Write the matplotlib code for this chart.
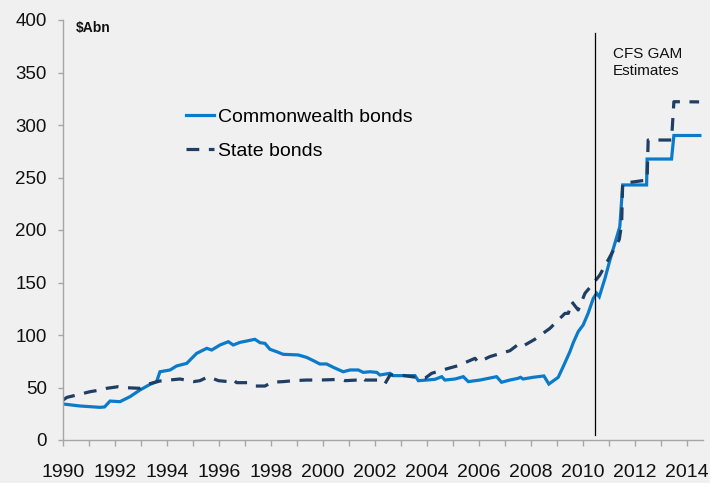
import matplotlib
matplotlib.use("Agg")
import matplotlib.pyplot as plt

plt.rcParams['font.family'] = ['Liberation Sans', 'DejaVu Sans']

# Commonwealth government bonds on issue ($Abn)
cw_years = [1990.0, 1990.65, 1991.42, 1991.6, 1991.81, 1992.19, 1992.58, 1992.96, 1993.35,
            1993.6, 1993.73, 1994.12, 1994.37, 1994.76, 1995.14, 1995.53, 1995.72, 1996.04,
            1996.36, 1996.55, 1996.81, 1997.07, 1997.38, 1997.58, 1997.77, 1997.96, 1998.22,
            1998.47, 1999.05, 1999.37, 1999.63, 1999.88, 2000.14, 2000.4, 2000.78, 2001.04,
            2001.36, 2001.55, 2001.81, 2002.07, 2002.19, 2002.58, 2002.7, 2003.54, 2003.67,
            2003.99, 2004.31, 2004.57, 2004.69, 2005.08, 2005.4, 2005.59, 2006.04, 2006.68,
            2006.87, 2007.19, 2007.5, 2007.6, 2007.7, 2008.08, 2008.5, 2008.69, 2009.05,
            2009.24, 2009.5, 2009.63, 2009.82, 2010.01, 2010.2, 2010.4, 2010.53, 2010.63,
            2010.85, 2011.04, 2011.42, 2011.53, 2012.45, 2012.47, 2013.41, 2013.5, 2014.5]
cw_values = [34.3, 32.4, 31.1, 31.5, 37.1, 36.5, 41.3, 47.6, 53.0,
             55.6, 65.0, 66.7, 70.5, 73.0, 82.5, 87.3, 85.7, 90.5,
             93.6, 90.5, 93.0, 94.3, 95.9, 92.7, 92.0, 86.4, 84.1,
             81.6, 81.0, 78.7, 75.6, 72.4, 72.4, 69.2, 65.0, 66.7,
             66.7, 64.4, 65.0, 64.4, 61.9, 63.5, 61.3, 61.3, 56.5,
             57.1, 57.8, 60.3, 57.1, 58.1, 60.3, 55.6, 57.1, 60.3,
             55.0, 57.1, 58.7, 59.7, 58.1, 59.7, 61.0, 53.3, 59.7,
             69.8, 84.1, 92.7, 103.2, 109.5, 120.6, 134.9, 139.7, 136.5,
             154.0, 171.4, 203.2, 242.9, 242.9, 267.6, 267.6, 290.0, 290.0]

# State government bonds on issue ($Abn)
st_years = [1990.0, 1990.15, 1990.78, 1991.04, 1991.42, 1991.68, 1992.13, 1992.45, 1992.96,
            1993.15, 1993.73, 1994.5, 1995.02, 1995.27, 1995.59, 1995.98, 1996.36, 1996.53,
            1996.68, 1997.13, 1997.38, 1997.77, 1998.03, 1998.47, 1998.86, 1999.37, 1999.88,
            2000.72, 2000.85, 2001.3, 2001.45, 2001.62, 2002.13, 2002.38, 2002.58, 2002.96,
            2003.41, 2003.92, 2004.18, 2004.82, 2005.2, 2005.46, 2005.85, 2005.97, 2006.42,
            2006.93, 2007.19, 2007.6, 2007.77, 2008.15, 2008.41, 2008.73, 2008.99, 2009.31,
            2009.44, 2009.57, 2009.82, 2010.08, 2010.4, 2010.65, 2010.97, 2011.4, 2011.49,
            2011.53, 2012.0, 2012.47, 2012.51, 2013.41, 2013.5, 2014.47]
st_values = [38.0, 40.6, 44.4, 46.0, 47.6, 49.2, 50.8, 49.8, 49.2,
             52.4, 56.2, 58.1, 55.6, 56.5, 60.3, 56.5, 55.6, 57.8,
             54.6, 54.6, 51.4, 51.4, 55.0, 55.6, 56.5, 57.1, 57.1,
             57.8, 56.5, 57.1, 60.0, 57.1, 57.1, 53.3, 61.9, 61.9,
             60.3, 58.7, 63.5, 68.2, 70.8, 73.6, 77.8, 74.0, 79.4,
             83.2, 85.0, 92.7, 90.5, 95.9, 100.6, 106.3, 112.7, 120.6,
             120.6, 131.7, 123.8, 139.7, 149.2, 157.1, 171.4, 191.0, 206.0,
             244.4, 246.0, 247.6, 285.7, 285.7, 322.2, 322.0]

x_ticks = list(range(1990, 2015))
x_labels = [str(y) if y % 2 == 0 else '' for y in x_ticks]
y_ticks = list(range(0, 401, 50))
forecast_start = 2010.47

bg = '#f0f0f0'
grey = '#a6a6a6'

fig = plt.figure(figsize=(7.1, 4.83), dpi=100, facecolor=bg)
ax = fig.add_axes([63 / 710, 43 / 483, 640 / 710, 420 / 483])
ax.set_facecolor(bg)

ax.plot(cw_years, cw_values, color='#0b7bc9', lw=2.3, label='Commonwealth bonds',
        solid_joinstyle='miter')
ax.plot(st_years, st_values, color='#1f3e64', lw=2.3, dashes=(4, 3),
        label='State bonds')

ax.axvline(forecast_start, ymin=0.012, ymax=0.97, color='black', lw=0.9)

ax.set_xlim(1990, 2014.62)
ax.set_ylim(0, 400)
ax.set_xticks(x_ticks)
ax.set_xticklabels(x_labels)
ax.set_yticks(y_ticks)

for side in ['top', 'right']:
    ax.spines[side].set_visible(False)
for side in ['left', 'bottom']:
    ax.spines[side].set_color(grey)
    ax.spines[side].set_linewidth(1.0)

ax.tick_params(axis='x', direction='out', length=4.5, width=1, color=grey,
               pad=12.5, labelsize=14, labelcolor='#111111')
ax.tick_params(axis='y', direction='out', length=3.6, width=1, color=grey,
               pad=8, labelsize=13.5, labelcolor='#111111')

ax.legend(loc='upper left', bbox_to_anchor=(186 / 710, 0.776),
          bbox_transform=fig.transFigure, frameon=False, fontsize=14,
          handlelength=1.45, handletextpad=0.2, borderpad=0, borderaxespad=0,
          labelspacing=0.85)

fig.text(76 / 710, 1 - 28 / 483, '$Abn', fontsize=10, fontweight='bold',
         va='center', ha='left', color='#111111')
fig.text(613 / 710, 1 - 47 / 483, 'CFS GAM\nEstimates', fontsize=11,
         va='top', ha='left', linespacing=1.25, color='#111111')

fig.savefig('out.png', dpi=100, facecolor=bg)
